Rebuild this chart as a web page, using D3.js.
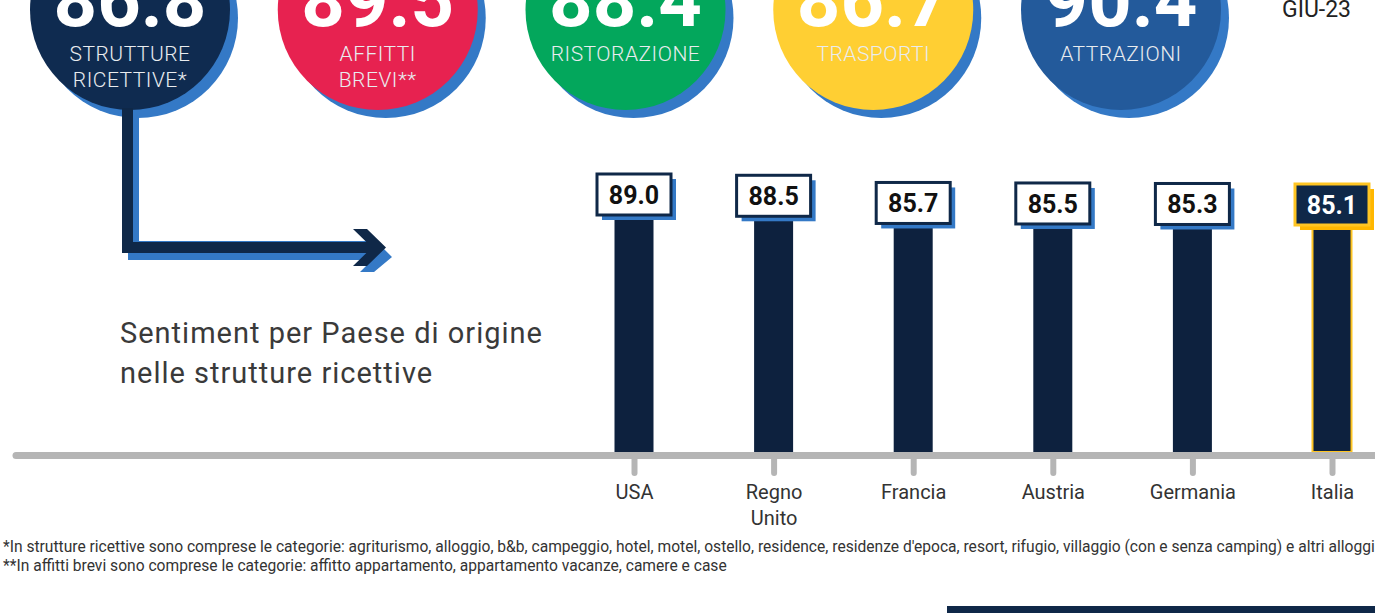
<!DOCTYPE html>
<html>
<head>
<meta charset="utf-8">
<script src="https://cdn.jsdelivr.net/npm/d3@7"></script>
<style>
  body { margin: 0; background: #fff; }
  svg { display: block; font-family: Roboto, "Open Sans", sans-serif; }
</style>
</head>
<body>
<div id="chart"></div>
<script>
// summary circles (top row)
const areas = ["STRUTTURE RICETTIVE*", "AFFITTI BREVI**", "RISTORAZIONE", "TRASPORTI", "ATTRAZIONI"];
const areaValues = [86.8, 89.5, 88.4, 86.7, 90.4];

// sentiment by country of origin
const countries = ["USA", "Regno Unito", "Francia", "Austria", "Germania", "Italia"];
const sentiment = [89.0, 88.5, 85.7, 85.5, 85.3, 85.1];

const period = "GIU-23";
const notes = [
  "*In strutture ricettive sono comprese le categorie: agriturismo, alloggio, b&b, campeggio, hotel, motel, ostello, residence, residenze d'epoca, resort, rifugio, villaggio (con e senza camping) e altri alloggi",
  "**In affitti brevi sono comprese le categorie: affitto appartamento, appartamento vacanze, camere e case"
];

const width = 1375, height = 613;
const navy = "#0f2848", shadowBlue = "#3479c6";
const circleFill = ["#0f2b50", "#e72250", "#03a75c", "#ffcf33", "#235a9b"];

const svg = d3.select("#chart").append("svg")
    .attr("width", width)
    .attr("height", height);

// ---- top circles ----
const cx = d3.scalePoint().domain(areas).range([130, 1121]);
const r = 100, cy = 10;

const circ = svg.append("g").selectAll("g")
    .data(areas)
    .enter().append("g")
    .attr("transform", d => `translate(${cx(d)},${cy})`);

circ.append("circle")
    .attr("cx", 8).attr("cy", 8).attr("r", r)
    .style("fill", shadowBlue);

circ.append("circle")
    .attr("r", r)
    .style("fill", (d, i) => circleFill[i]);

// big number, mostly above the top edge (cropped like the original)
circ.append("text")
    .attr("text-anchor", "middle")
    .attr("y", 16)
    .style("font-size", "76px")
    .style("font-weight", 700)
    .style("fill", "#fff")
    .text((d, i) => areaValues[i].toFixed(1));

circ.each(function(d) {
  const words = d.split(" ");
  const t = d3.select(this).append("text")
      .attr("text-anchor", "middle")
      .style("font-size", "21px")
      .style("font-weight", 300)
      .style("letter-spacing", "0.5px")
      .style("fill", "#e9ecef");
  words.forEach((w, k) => {
    t.append("tspan").attr("x", 0).attr("y", 51 + k * 26).text(w);
  });
});

svg.append("text")
    .attr("x", 1282).attr("y", 17)
    .style("font-size", "23px")
    .style("fill", "#222")
    .text(period);

// ---- arrow from first circle ----
const arrow = svg.append("g");
arrow.append("path")
    .attr("d", "M133,110 V249 H128 V260 H372 L360,272 H374 L392,257 L376,241 H139 V110 Z")
    .style("fill", shadowBlue);
arrow.append("rect").attr("x", 122).attr("y", 108).attr("width", 11).attr("height", 145)
    .style("fill", navy);
arrow.append("rect").attr("x", 122).attr("y", 242).attr("width", 250).attr("height", 11)
    .style("fill", navy);
arrow.append("path")
    .attr("d", "M353,229 H367 L386,247.5 L367,266 H353 L372,247.5 Z")
    .style("fill", navy);

// ---- subtitle ----
const sub = svg.append("text")
    .attr("x", 120)
    .style("font-size", "29px")
    .style("letter-spacing", "1px")
    .style("fill", "#3a3a3a");
sub.append("tspan").attr("x", 120).attr("y", 343).text("Sentiment per Paese di origine");
sub.append("tspan").attr("x", 120).attr("y", 383).text("nelle strutture ricettive");

// ---- bars ----
const baseY = 452;
const x = d3.scalePoint().domain(countries).range([634, 1332]);
const y = d3.scaleLinear().domain([85.1, 89.0]).range([184, 174]);
const barW = 39, boxW = 74, boxH = 41;

const bar = svg.append("g").selectAll("g")
    .data(countries)
    .enter().append("g")
    .attr("transform", d => `translate(${x(d)},0)`);

bar.append("rect")
    .attr("x", -barW / 2)
    .attr("y", (d, i) => y(sentiment[i]) + 20)
    .attr("width", barW)
    .attr("height", (d, i) => baseY - y(sentiment[i]) - 20)
    .style("fill", "#0d213e")
    .style("stroke", d => d === "Italia" ? "#ffc523" : "none")
    .style("stroke-width", 2);

bar.append("rect")
    .attr("x", -boxW / 2 + 5)
    .attr("y", (d, i) => y(sentiment[i]) + 5)
    .attr("width", boxW).attr("height", boxH)
    .style("fill", d => d === "Italia" ? "#ffb700" : shadowBlue);

bar.append("rect")
    .attr("x", -boxW / 2)
    .attr("y", (d, i) => y(sentiment[i]))
    .attr("width", boxW).attr("height", boxH)
    .style("fill", d => d === "Italia" ? navy : "#fff")
    .style("stroke", d => d === "Italia" ? "#ffc523" : navy)
    .style("stroke-width", 3);

bar.append("text")
    .attr("text-anchor", "middle")
    .attr("y", (d, i) => y(sentiment[i]) + 30)
    .style("font-size", "25px")
    .style("font-weight", 700)
    .style("fill", d => d === "Italia" ? "#fff" : "#111")
    .text((d, i) => sentiment[i].toFixed(1));

// ---- axis ----
svg.append("line")
    .attr("x1", 16).attr("x2", width + 10)
    .attr("y1", 455.5).attr("y2", 455.5)
    .style("stroke", "#b5b5b5")
    .style("stroke-width", 7)
    .style("stroke-linecap", "round");

const axis = svg.append("g")
    .attr("transform", `translate(0,${baseY + 7})`)
    .call(d3.axisBottom(x).tickSize(14).tickPadding(12));

axis.select(".domain").remove();
axis.selectAll(".tick line")
    .style("stroke", "#b5b5b5")
    .style("stroke-width", 6)
    .style("stroke-linecap", "round");
axis.selectAll(".tick text")
    .style("font-family", "Roboto, sans-serif")
    .style("font-size", "20px")
    .style("fill", "#333")
    .each(function(d) {
      const t = d3.select(this).text(null);
      d.split(" ").forEach((w, k) => {
        t.append("tspan").attr("x", 0).attr("dy", k ? "1.3em" : "0.71em").text(w);
      });
    });

// ---- footnotes ----
svg.append("g").selectAll("text")
    .data(notes)
    .enter().append("text")
    .attr("x", 3)
    .attr("y", (d, i) => 552 + i * 19)
    .style("font-size", "15.6px")
    .style("fill", "#333")
    .text(d => d);

svg.append("rect")
    .attr("x", 947).attr("y", 606)
    .attr("width", width - 947).attr("height", 10)
    .style("fill", navy);
</script>
</body>
</html>
